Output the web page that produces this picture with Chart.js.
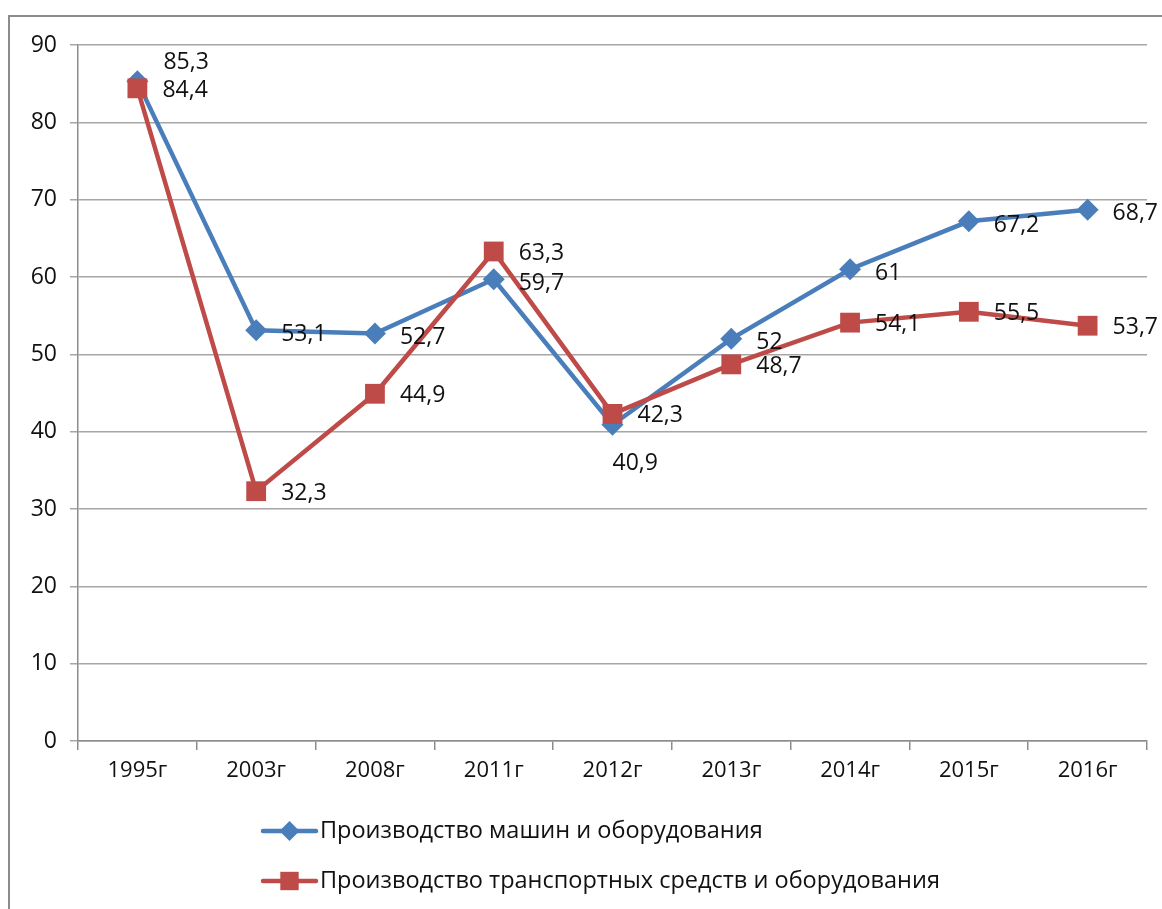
<!DOCTYPE html>
<html>
<head>
<meta charset="utf-8">
<script src="https://cdn.jsdelivr.net/npm/chart.js@4.4.1/dist/chart.umd.min.js"></script>
<style>
  html, body { margin: 0; padding: 0; background: #fff; overflow: hidden; }
  #frame { position: absolute; left: 8px; top: 15px; width: 1300px; height: 1000px; border: 2px solid #8c8c8c; }
  #chart { position: absolute; left: 0; top: 0; }
</style>
</head>
<body>
<div id="frame"></div>
<canvas id="chart" width="1162" height="909"></canvas>
<script>
// --- data ---
const years = ['1995г', '2003г', '2008г', '2011г', '2012г', '2013г', '2014г', '2015г', '2016г'];
const machines = [85.3, 53.1, 52.7, 59.7, 40.9, 52, 61, 67.2, 68.7];
const transport = [84.4, 32.3, 44.9, 63.3, 42.3, 48.7, 54.1, 55.5, 53.7];
const yTicks = [0, 10, 20, 30, 40, 50, 60, 70, 80, 90];

// where each value label sits relative to its point
const machinesLabelPos = ['above', 'right', 'right', 'right', 'below', 'right', 'right', 'right', 'right'];
const transportLabelPos = ['right', 'right', 'right', 'right', 'right', 'right', 'right', 'right', 'right'];

const FONT = '"Open Sans", sans-serif';
const TEXT = '#111';
const BLUE = '#4a7ebb';
const RED = '#be4b48';

// Value labels next to the points
const valueLabels = {
    id: 'valueLabels',
    afterDatasetsDraw(chart) {
        const ctx = chart.ctx;
        ctx.save();
        ctx.font = '23px ' + FONT;
        ctx.fillStyle = TEXT;
        ctx.textAlign = 'left';
        ctx.textBaseline = 'middle';
        chart.data.datasets.forEach((ds, i) => {
            const meta = chart.getDatasetMeta(i);
            meta.data.forEach((pt, j) => {
                const txt = String(ds.data[j]).replace('.', ',');
                const pos = ds.labelPos[j];
                let dx = 25, dy = ds.labelDy;
                if (pos === 'above') { dx = 26; dy = -19; }
                if (pos === 'below') { dx = 0; dy = 39; }
                ctx.fillText(txt, pt.x + dx, pt.y + dy);
            });
        });
        ctx.restore();
    }
};

// Legend stacked under the chart, line + marker sample
const stackedLegend = {
    id: 'stackedLegend',
    afterDraw(chart) {
        const ctx = chart.ctx;
        const x0 = 263, x1 = 316;
        ctx.save();
        ctx.font = '23.5px ' + FONT;
        ctx.textBaseline = 'middle';
        chart.data.datasets.forEach((ds, i) => {
            const y = 831 + i * 50;
            ctx.strokeStyle = ds.borderColor;
            ctx.lineWidth = 4.5;
            ctx.lineCap = 'round';
            ctx.beginPath();
            ctx.moveTo(x0, y);
            ctx.lineTo(x1, y);
            ctx.stroke();
            ctx.fillStyle = ds.backgroundColor;
            Chart.helpers.drawPoint(ctx, {
                pointStyle: ds.pointStyle,
                radius: ds.pointStyle === 'rectRot' ? 10 : 13,
                rotation: 0,
                borderWidth: 0
            }, (x0 + x1) / 2, y);
            ctx.fillStyle = TEXT;
            ctx.fillText(ds.label, 320, y);
        });
        ctx.restore();
    }
};

new Chart(document.getElementById('chart'), {
    type: 'line',
    data: {
        labels: years,
        datasets: [
            {
                label: 'Производство машин и оборудования',
                data: machines,
                labelPos: machinesLabelPos,
                labelDy: 4,
                borderColor: BLUE,
                backgroundColor: BLUE,
                borderWidth: 4.5,
                pointStyle: 'rectRot',
                pointRadius: 11,
                pointBorderWidth: 0,
                tension: 0,
                order: 1
            },
            {
                label: 'Производство транспортных средств и оборудования',
                data: transport,
                labelPos: transportLabelPos,
                labelDy: 2,
                borderColor: RED,
                backgroundColor: RED,
                borderWidth: 4.5,
                pointStyle: 'rect',
                pointRadius: 14,
                pointBorderWidth: 0,
                tension: 0,
                order: 0
            }
        ]
    },
    options: {
        responsive: false,
        animation: false,
        layout: { padding: { left: 0, top: 45, right: 15, bottom: 108 } },
        plugins: {
            legend: { display: false },
            tooltip: { enabled: false }
        },
        scales: {
            x: {
                offset: true,
                grid: { drawOnChartArea: false, offset: true, tickLength: 9, color: '#8c8c8c', lineWidth: 1.5 },
                border: { color: '#8c8c8c', width: 1.5 },
                ticks: { color: TEXT, font: { family: FONT, size: 22 }, padding: 8, maxRotation: 0 },
                afterFit(scale) { scale.height = 60; }
            },
            y: {
                min: 0,
                max: 90,
                afterBuildTicks(scale) { scale.ticks = yTicks.map(v => ({ value: v })); },
                grid: { color: '#a6a6a6', lineWidth: 1.5, tickLength: 8 },
                border: { color: '#8c8c8c', width: 1.5 },
                ticks: { color: TEXT, font: { family: FONT, size: 23 }, padding: 13 },
                afterFit(scale) { scale.width = 78; }
            }
        }
    },
    plugins: [valueLabels, stackedLegend]
});
</script>
</body>
</html>
